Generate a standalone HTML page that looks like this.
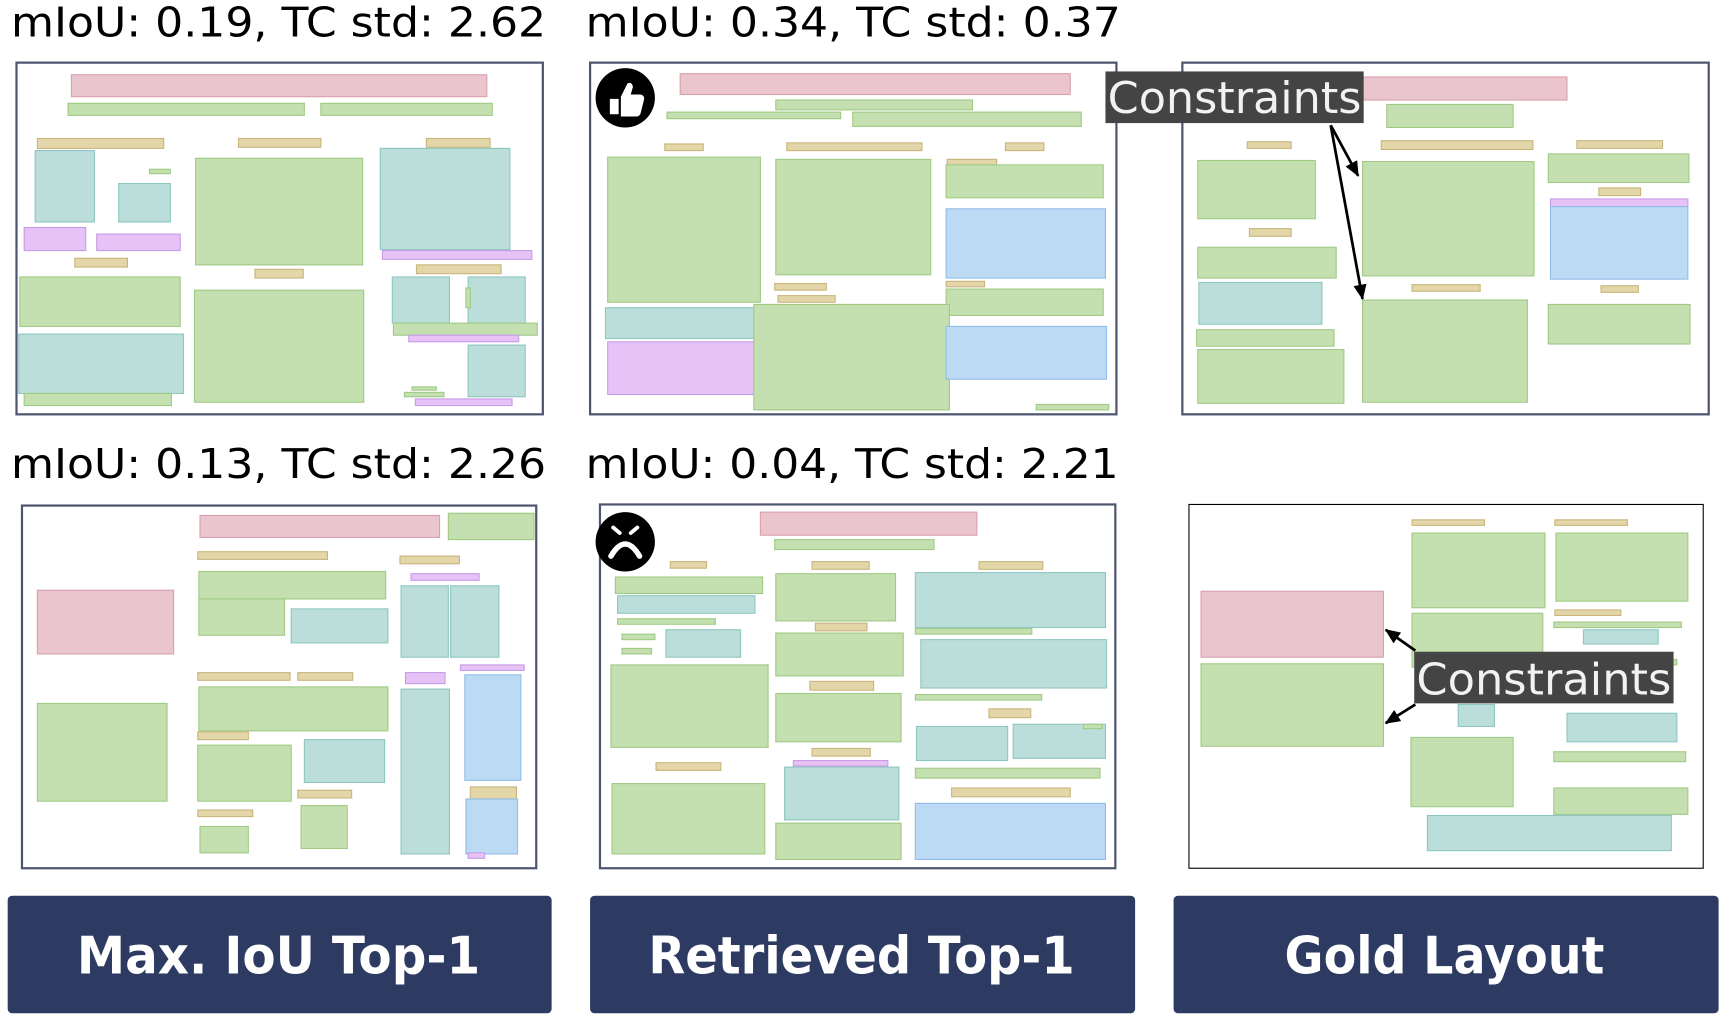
<!DOCTYPE html>
<html><head><meta charset="utf-8"><style>
html,body{margin:0;padding:0;background:#fff;width:1723px;height:1021px;overflow:hidden}
svg{display:block}
.p{fill:#eac5ce;stroke:#d9a0ad}
.g{fill:#c5e0b0;stroke:#9fca84}
.t{fill:#bcdedb;stroke:#8fc6c1}
.n{fill:#e3d6a9;stroke:#c9b57c}
.u{fill:#e6c2f6;stroke:#c99be6}
.b{fill:#bddaf5;stroke:#90bde6}
rect{stroke-width:1}
.fr{fill:#fff;stroke:#4c5470;stroke-width:2}
.lab{font-family:"DejaVu Sans","Liberation Sans",sans-serif;font-size:37px;fill:#000}
.btn{fill:#2d3a62}
.bt{font-family:"DejaVu Sans","Liberation Sans",sans-serif;font-weight:bold;font-size:47px;fill:#fff}
.ct{font-family:"DejaVu Sans","Liberation Sans",sans-serif;font-size:40px;fill:#f2f2f2}
</style></head><body>
<svg width="1723" height="1021" viewBox="0 0 1568 929" preserveAspectRatio="none" xmlns="http://www.w3.org/2000/svg">
<defs>
<marker id="ah2" markerWidth="14" markerHeight="12" refX="13" refY="6" orient="auto" markerUnits="userSpaceOnUse"><path d="M0,0 L14,6 L0,12 z" fill="#000"/></marker></defs>

<text class="lab" x="10" y="33" textLength="487" lengthAdjust="spacingAndGlyphs">mIoU: 0.19, TC std: 2.62</text>
<text class="lab" x="533" y="33" textLength="487" lengthAdjust="spacingAndGlyphs">mIoU: 0.34, TC std: 0.37</text>
<text class="lab" x="10" y="435" textLength="487" lengthAdjust="spacingAndGlyphs">mIoU: 0.13, TC std: 2.26</text>
<text class="lab" x="533" y="435" textLength="485" lengthAdjust="spacingAndGlyphs">mIoU: 0.04, TC std: 2.21</text>

<!-- Panel 1 -->
<rect class="fr" x="15" y="57" width="479" height="320"/>
<rect class="p" x="65" y="68" width="378" height="20"/>
<rect class="g" x="62" y="94" width="215" height="11"/><rect class="g" x="292" y="94" width="156" height="11"/>
<rect class="n" x="34" y="126" width="115" height="9"/><rect class="n" x="217" y="126" width="75" height="8"/><rect class="n" x="388" y="126" width="58" height="8"/>
<rect class="t" x="32" y="137" width="54" height="65"/><rect class="t" x="108" y="167" width="47" height="35"/><rect class="t" x="346" y="135" width="118" height="92"/>
<rect class="g" x="136" y="154" width="19" height="4"/>
<rect class="g" x="178" y="144" width="152" height="97"/>
<rect class="u" x="22" y="207" width="56" height="21"/><rect class="u" x="88" y="213" width="76" height="15"/><rect class="u" x="348" y="228" width="136" height="8"/>
<rect class="n" x="68" y="235" width="48" height="8"/><rect class="n" x="232" y="245" width="44" height="8"/><rect class="n" x="379" y="241" width="77" height="8"/>
<rect class="g" x="18" y="252" width="146" height="45"/><rect class="g" x="177" y="264" width="154" height="102"/>
<rect class="t" x="357" y="252" width="52" height="42"/><rect class="t" x="426" y="252" width="52" height="42"/>
<rect class="g" x="424" y="262" width="4" height="18"/><rect class="g" x="358" y="294" width="131" height="11"/>
<rect class="u" x="372" y="305" width="100" height="6"/>
<rect class="t" x="17" y="304" width="150" height="54"/><rect class="t" x="426" y="314" width="52" height="47"/>
<rect class="g" x="22" y="358" width="134" height="11"/>
<rect class="g" x="375" y="352" width="22" height="3"/><rect class="g" x="368" y="357" width="36" height="4"/>
<rect class="u" x="378" y="363" width="88" height="6"/>

<!-- Panel 2 -->
<rect class="fr" x="537" y="57" width="479" height="320"/>
<rect class="p" x="619" y="67" width="355" height="19"/>
<rect class="g" x="706" y="91" width="179" height="9"/><rect class="g" x="607" y="102" width="158" height="6"/><rect class="g" x="776" y="102" width="208" height="13"/>
<rect class="n" x="605" y="131" width="35" height="6"/><rect class="n" x="716" y="130" width="123" height="7"/><rect class="n" x="915" y="130" width="35" height="7"/><rect class="n" x="862" y="145" width="45" height="6"/>
<rect class="g" x="553" y="143" width="139" height="132"/><rect class="g" x="706" y="145" width="141" height="105"/><rect class="g" x="861" y="150" width="143" height="30"/>
<rect class="b" x="861" y="190" width="145" height="63"/>
<rect class="n" x="705" y="258" width="47" height="6"/><rect class="n" x="708" y="269" width="52" height="6"/><rect class="n" x="861" y="256" width="35" height="5"/>
<rect class="g" x="861" y="263" width="143" height="24"/>
<rect class="t" x="551" y="280" width="141" height="28"/>
<rect class="u" x="553" y="311" width="139" height="48"/>
<rect class="g" x="686" y="277" width="178" height="96"/>
<rect class="b" x="861" y="297" width="146" height="48"/>
<rect class="g" x="943" y="368" width="66" height="5"/>
<circle cx="569" cy="89" r="27" fill="#000"/>
<path d="M555,90 h8 v14 h-8 z M565,88 l6,-12 q4,-2 5,3 l-2,7 h9 q4,1 3,5 l-3,12 q-1,3 -4,3 h-14 z" fill="#fff"/>

<!-- Panel 3 -->
<rect class="fr" x="1076" y="57" width="479" height="320"/>
<rect class="p" x="1228" y="70" width="198" height="21"/>
<rect class="g" x="1262" y="95" width="115" height="21"/>
<rect class="n" x="1135" y="129" width="40" height="6"/><rect class="n" x="1257" y="128" width="138" height="8"/><rect class="n" x="1435" y="128" width="78" height="7"/><rect class="n" x="1455" y="171" width="38" height="7"/>
<rect class="g" x="1090" y="146" width="107" height="53"/><rect class="g" x="1240" y="147" width="156" height="104"/><rect class="g" x="1409" y="140" width="128" height="26"/>
<rect class="u" x="1411" y="181" width="125" height="7"/>
<rect class="b" x="1411" y="188" width="125" height="66"/>
<rect class="n" x="1137" y="208" width="38" height="7"/><rect class="n" x="1285" y="259" width="62" height="6"/><rect class="n" x="1457" y="260" width="34" height="6"/>
<rect class="g" x="1090" y="225" width="126" height="28"/>
<rect class="t" x="1091" y="257" width="112" height="38"/>
<rect class="g" x="1089" y="300" width="125" height="15"/><rect class="g" x="1090" y="318" width="133" height="49"/><rect class="g" x="1240" y="273" width="150" height="93"/><rect class="g" x="1409" y="277" width="129" height="36"/>
<rect x="1006" y="65" width="235" height="47" fill="#444"/>
<text class="ct" x="1008" y="103" textLength="231" lengthAdjust="spacingAndGlyphs">Constraints</text>
<line x1="1211" y1="114" x2="1236" y2="160" stroke="#000" stroke-width="2.5" marker-end="url(#ah2)"/>
<line x1="1211" y1="114" x2="1240" y2="272" stroke="#000" stroke-width="2.5" marker-end="url(#ah2)"/>

<!-- Panel 4 -->
<rect class="fr" x="20" y="460" width="468" height="330"/>
<rect class="p" x="182" y="469" width="218" height="20"/><rect class="g" x="408" y="467" width="78" height="24"/>
<rect class="n" x="180" y="502" width="118" height="7"/><rect class="n" x="364" y="506" width="54" height="7"/>
<rect class="u" x="374" y="522" width="62" height="6"/>
<rect class="g" x="181" y="520" width="170" height="25"/><rect class="g" x="181" y="545" width="78" height="33"/>
<rect class="t" x="365" y="533" width="43" height="65"/><rect class="t" x="410" y="533" width="44" height="65"/>
<rect class="p" x="34" y="537" width="124" height="58"/>
<rect class="t" x="265" y="554" width="88" height="31"/>
<rect class="n" x="180" y="612" width="84" height="7"/><rect class="n" x="271" y="612" width="50" height="7"/>
<rect class="u" x="369" y="612" width="36" height="10"/><rect class="u" x="419" y="605" width="58" height="5"/>
<rect class="g" x="181" y="625" width="172" height="40"/>
<rect class="t" x="365" y="627" width="44" height="150"/>
<rect class="b" x="423" y="614" width="51" height="96"/>
<rect class="g" x="34" y="640" width="118" height="89"/>
<rect class="n" x="180" y="666" width="46" height="7"/>
<rect class="g" x="180" y="678" width="85" height="51"/>
<rect class="t" x="277" y="673" width="73" height="39"/>
<rect class="n" x="271" y="719" width="49" height="7"/><rect class="n" x="428" y="716" width="42" height="11"/>
<rect class="n" x="180" y="737" width="50" height="6"/>
<rect class="b" x="424" y="727" width="47" height="50"/>
<rect class="g" x="274" y="733" width="42" height="39"/><rect class="g" x="182" y="752" width="44" height="24"/>
<rect class="u" x="426" y="776" width="15" height="5"/>

<!-- Panel 5 -->
<rect class="fr" x="546" y="459" width="469" height="331"/>
<rect class="p" x="692" y="466" width="197" height="21"/>
<rect class="g" x="705" y="491" width="145" height="9"/>
<rect class="n" x="610" y="511" width="33" height="6"/><rect class="n" x="739" y="511" width="52" height="7"/><rect class="n" x="891" y="511" width="58" height="7"/>
<rect class="g" x="560" y="525" width="134" height="15"/><rect class="g" x="706" y="522" width="109" height="43"/>
<rect class="t" x="562" y="542" width="125" height="16"/><rect class="t" x="833" y="521" width="173" height="50"/>
<rect class="g" x="562" y="563" width="89" height="5"/>
<rect class="t" x="606" y="573" width="68" height="25"/>
<rect class="g" x="566" y="577" width="30" height="5"/><rect class="g" x="566" y="590" width="27" height="5"/>
<rect class="n" x="742" y="567" width="47" height="7"/>
<rect class="g" x="833" y="572" width="106" height="5"/><rect class="g" x="706" y="576" width="116" height="39"/>
<rect class="t" x="838" y="582" width="169" height="44"/>
<rect class="g" x="556" y="605" width="143" height="75"/>
<rect class="n" x="737" y="620" width="58" height="8"/>
<rect class="g" x="706" y="631" width="114" height="44"/><rect class="g" x="833" y="632" width="115" height="5"/>
<rect class="n" x="900" y="645" width="38" height="8"/>
<rect class="t" x="834" y="661" width="83" height="31"/><rect class="t" x="922" y="659" width="84" height="31"/>
<rect class="g" x="986" y="659" width="17" height="4"/>
<rect class="n" x="739" y="681" width="53" height="7"/>
<rect class="n" x="597" y="694" width="59" height="7"/>
<rect class="u" x="722" y="692" width="86" height="5"/>
<rect class="t" x="714" y="698" width="104" height="48"/>
<rect class="g" x="833" y="699" width="168" height="9"/>
<rect class="n" x="866" y="717" width="108" height="8"/>
<rect class="g" x="557" y="713" width="139" height="64"/>
<rect class="b" x="833" y="731" width="173" height="51"/>
<rect class="g" x="706" y="749" width="114" height="33"/>
<circle cx="569" cy="493" r="27" fill="#000"/>
<path d="M556,506 q13,-22 26,0" fill="none" stroke="#fff" stroke-width="5" stroke-linecap="round"/>
<path d="M558,480 l6,5 M580,480 l-6,5" fill="none" stroke="#fff" stroke-width="3.5" stroke-linecap="round"/>

<!-- Panel 6 -->
<rect x="1082" y="459" width="468" height="331" fill="#fff" stroke="#000" stroke-width="2"/>
<rect class="n" x="1285" y="473" width="66" height="5"/><rect class="n" x="1415" y="473" width="66" height="5"/>
<rect class="g" x="1285" y="485" width="121" height="68"/><rect class="g" x="1416" y="485" width="120" height="62"/>
<rect class="p" x="1093" y="538" width="166" height="60"/>
<rect class="g" x="1285" y="558" width="119" height="49"/>
<rect class="n" x="1415" y="555" width="60" height="5"/><rect class="g" x="1414" y="566" width="116" height="5"/>
<rect class="t" x="1441" y="573" width="68" height="13"/>
<rect class="g" x="1093" y="604" width="166" height="75"/>
<rect class="g" x="1411" y="600" width="115" height="5"/>
<rect class="t" x="1327" y="641" width="33" height="20"/><rect class="t" x="1426" y="649" width="100" height="26"/>
<rect class="g" x="1414" y="684" width="120" height="9"/><rect class="g" x="1284" y="671" width="93" height="63"/><rect class="g" x="1414" y="717" width="122" height="24"/>
<rect class="t" x="1299" y="742" width="222" height="32"/>
<rect x="1287" y="593" width="236" height="47" fill="#444"/>
<text class="ct" x="1289" y="632" textLength="232" lengthAdjust="spacingAndGlyphs">Constraints</text>
<line x1="1288" y1="592" x2="1261" y2="573" stroke="#000" stroke-width="2.5" marker-end="url(#ah2)"/>
<line x1="1288" y1="641" x2="1261" y2="658" stroke="#000" stroke-width="2.5" marker-end="url(#ah2)"/>

<!-- Buttons -->
<rect class="btn" x="7" y="815" width="495" height="107" rx="4"/>
<rect class="btn" x="537" y="815" width="496" height="107" rx="4"/>
<rect class="btn" x="1068" y="815" width="496" height="107" rx="4"/>
<text class="bt" x="70" y="886" textLength="367" lengthAdjust="spacingAndGlyphs">Max. IoU Top-1</text>
<text class="bt" x="590" y="886" textLength="388" lengthAdjust="spacingAndGlyphs">Retrieved Top-1</text>
<text class="bt" x="1169" y="886" textLength="291" lengthAdjust="spacingAndGlyphs">Gold Layout</text>
</svg>
</body></html>
